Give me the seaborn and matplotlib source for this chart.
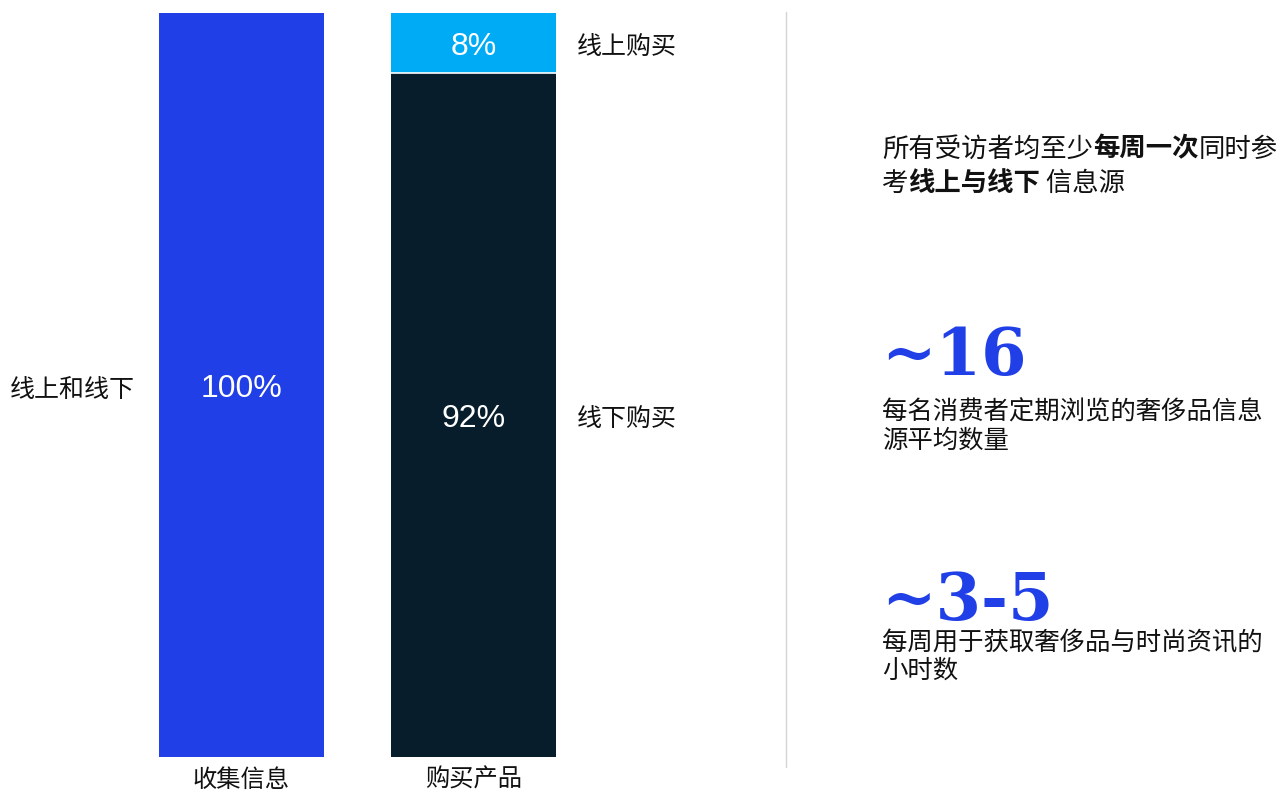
import matplotlib
matplotlib.use("Agg")
import matplotlib.pyplot as plt
from matplotlib.lines import Line2D
import seaborn as sns
import pandas as pd

# ---- data ----
categories = ["收集信息", "购买产品"]
segments = ["线上和线下", "线下购买", "线上购买"]
segment_category = ["收集信息", "购买产品", "购买产品"]
segment_values = [100, 92, 8]
segment_colors = {"线上和线下": "#203FE6", "线下购买": "#071D2C", "线上购买": "#00ABF5"}

stat_values = ["~16", "~3-5"]
stat_captions = [["每名消费者定期浏览的奢侈品信息", "源平均数量"],
                 ["每周用于获取奢侈品与时尚资讯的", "小时数"]]
headline_parts = [[("所有受访者均至少", False), ("每周一次", True), ("同时参", False)],
                  [("考", False), ("线上与线下", True), (" 信息源", False)]]

# ---- build stacked table ----
df = pd.DataFrame({"category": segment_category, "segment": segments, "value": segment_values})
df["top"] = df.groupby("category")["value"].cumsum()
df["bottom"] = df["top"] - df["value"]

sns.set_theme(style="white")
plt.rcParams["font.family"] = ["Noto Sans CJK SC", "DejaVu Sans"]

W, H = 1279, 794
fig = plt.figure(figsize=(W / 100, H / 100), dpi=100)

def fx(px):
    return px / W

def fy(py):
    return 1 - py / H

ax = fig.add_axes([fx(159), fy(757), fx(556) - fx(159), fy(13) - fy(757)])

# draw taller cumulative bars first so lower segments sit on top
draw_order = df.sort_values("top", ascending=False)
sns.barplot(data=draw_order, x="category", y="top", hue="segment",
            hue_order=list(draw_order["segment"]), palette=segment_colors,
            order=categories, dodge=False, width=0.71, legend=False,
            saturation=1, linewidth=0, ax=ax)
ax.set_xlim(-0.355, 1.355)
ax.set_ylim(0, 100)

# white divider between stacked segments
bar_w = 0.71
for _, r in df.iterrows():
    if r["bottom"] > 0:
        xi = categories.index(r["category"])
        ax.plot([xi - bar_w / 2, xi + bar_w / 2], [r["bottom"], r["bottom"]],
                color="white", lw=1.2, solid_capstyle="butt", zorder=5)

# value labels inside bars and segment names beside
for _, r in df.iterrows():
    xi = categories.index(r["category"])
    ymid = r["bottom"] + r["value"] / 2
    ax.annotate(f"{r['value']}%", xy=(xi, ymid), xytext=(0, -4),
                textcoords="offset pixels", ha="center", va="center", color="white",
                fontsize=23, family=["Liberation Sans", "DejaVu Sans"], zorder=6)
    if xi == 0:
        ax.annotate(r["segment"], xy=(xi - bar_w / 2, ymid), xytext=(-24, -5),
                    textcoords="offset pixels", ha="right", va="center",
                    fontsize=18, color="#111111")
    else:
        ax.annotate(r["segment"], xy=(xi + bar_w / 2, ymid), xytext=(21, -5),
                    textcoords="offset pixels", ha="left", va="center",
                    fontsize=18, color="#111111")

ax.set_xlabel("")
ax.set_ylabel("")
ax.set_yticks([])
ax.tick_params(axis="x", length=0, pad=7, labelsize=17.5, labelcolor="#111111")
sns.despine(ax=ax, left=True, bottom=True)

# divider line
fig.add_artist(Line2D([fx(786), fx(786)], [fy(12), fy(767)], color="#d4d4d4", lw=1))

# headline with bold emphasis
line_y = [149, 183]
for parts, yy in zip(headline_parts, line_y):
    last = None
    for txt, bold in parts:
        w = "bold" if bold else "normal"
        if last is None:
            last = fig.text(fx(882), fy(yy), txt, ha="left", va="center",
                            fontsize=19, fontweight=w, color="#111111")
        else:
            last = ax.annotate(txt, xy=(1, 0.5), xycoords=last, ha="left", va="center",
                               fontsize=19, fontweight=w, color="#111111",
                               annotation_clip=False)

# big numbers and captions
stat_base = [375, 620]
caption_y = [[413, 441], [643, 671]]
for val, caps, sb, cys in zip(stat_values, stat_captions, stat_base, caption_y):
    fig.text(fx(881), fy(sb), val, ha="left", va="baseline", fontsize=47,
             fontweight="bold", color="#203FE6",
             family=["DejaVu Serif", "Liberation Serif"])
    for cap, cy in zip(caps, cys):
        fig.text(fx(882), fy(cy), cap, ha="left", va="center", fontsize=18.3,
                 color="#111111")

fig.savefig("out.png", dpi=100, facecolor="white")
